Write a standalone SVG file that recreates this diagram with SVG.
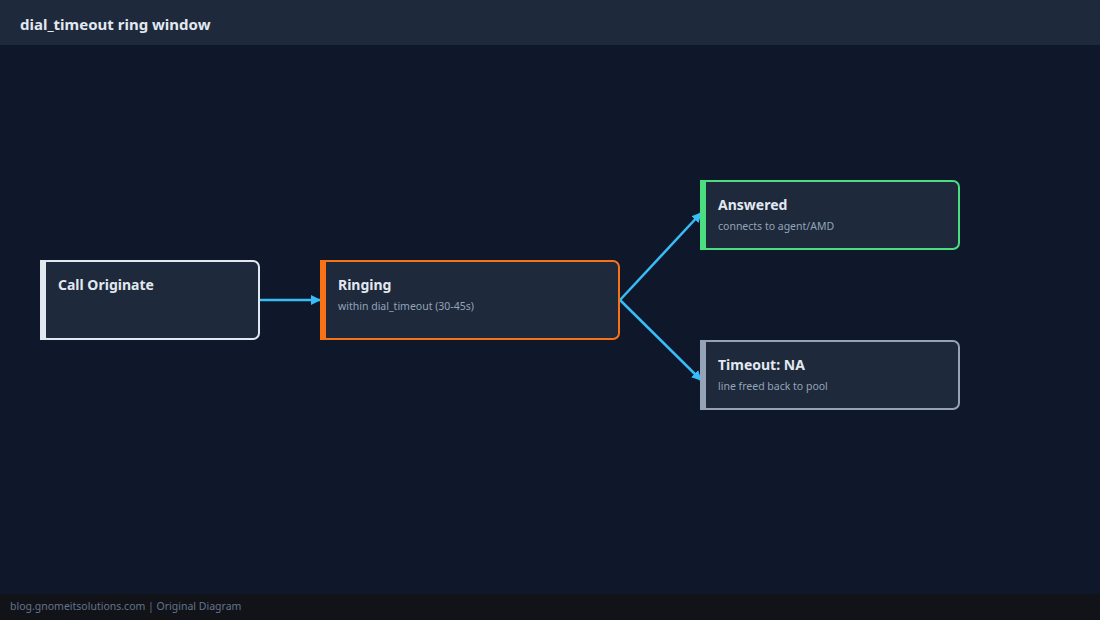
<svg xmlns="http://www.w3.org/2000/svg" width="1100" height="620" viewBox="0 0 1100 620">
<style>
.box{fill:#1e293b;stroke-width:2}
.t{font-family:"Noto Sans","Open Sans",sans-serif;font-weight:bold;font-size:14px;fill:#e2e8f0}
.s{font-family:"Noto Sans","Open Sans",sans-serif;font-size:10.5px;fill:#94a3b8}
.c{stroke:#38bdf8;stroke-width:2.5;fill:none;marker-end:url(#a)}
</style>
<defs><marker id="a" viewBox="0 0 10 10" refX="9" refY="5" markerWidth="4" markerHeight="4" orient="auto"><path d="M0,0L10,5L0,10z" fill="#38bdf8"/></marker></defs>
<rect width="1100" height="620" fill="#0f172a"/>
<rect width="1100" height="45" fill="#1e293b"/>
<text x="20" y="30" font-family="Noto Sans,Open Sans,sans-serif" font-weight="bold" font-size="15" fill="#e2e8f0">dial_timeout ring window</text>
<rect y="594" width="1100" height="26" fill="#111318"/>
<text x="10" y="610" font-family="Noto Sans,Open Sans,sans-serif" font-size="10.5" fill="#64748b">blog.gnomeitsolutions.com | Original Diagram</text>
<g id="connectors">
<path class="c" d="M260,300H320"/>
<path class="c" d="M620,300L701,213"/>
<path class="c" d="M620,300L701,380"/>
</g>
<g id="n1"><rect class="box" x="41" y="261" width="218" height="78" rx="6" stroke="#e2e8f0"/><rect x="40" y="260" width="6" height="80" fill="#e2e8f0"/><text class="t" x="58" y="290">Call Originate</text></g>
<g id="n2"><rect class="box" x="321" y="261" width="298" height="78" rx="6" stroke="#f97316"/><rect x="320" y="260" width="6" height="80" fill="#f97316"/><text class="t" x="338" y="290">Ringing</text><text class="s" x="338" y="310">within dial_timeout (30-45s)</text></g>
<g id="n3"><rect class="box" x="701" y="181" width="258" height="68" rx="6" stroke="#4ade80"/><rect x="700" y="180" width="6" height="70" fill="#4ade80"/><text class="t" x="718" y="210">Answered</text><text class="s" x="718" y="230">connects to agent/AMD</text></g>
<g id="n4"><rect class="box" x="701" y="341" width="258" height="68" rx="6" stroke="#94a3b8"/><rect x="700" y="340" width="6" height="70" fill="#94a3b8"/><text class="t" x="718" y="370">Timeout: NA</text><text class="s" x="718" y="390">line freed back to pool</text></g>
</svg>
